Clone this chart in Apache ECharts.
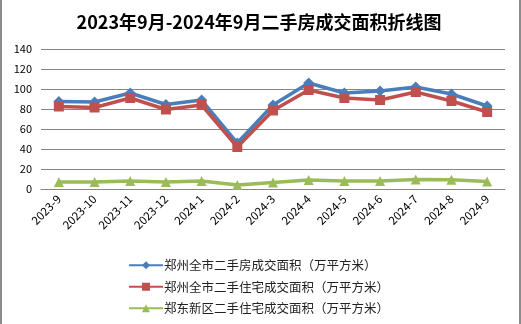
<!DOCTYPE html>
<html><head><meta charset="utf-8">
<script src="https://cdn.jsdelivr.net/npm/echarts@6/dist/echarts.min.js"></script>
<style>html,body{margin:0;padding:0;background:#fff}#c{width:521px;height:324px}</style>
</head><body><div id="c"></div>
<script>
const categories = ['2023-9','2023-10','2023-11','2023-12','2024-1','2024-2','2024-3','2024-4','2024-5','2024-6','2024-7','2024-8','2024-9'];
const cityHousing = [87.5, 87, 96, 84.5, 89, 46, 84, 106, 96, 98, 102, 95, 83];
const cityResidential = [82.5, 81.5, 91, 79.5, 84, 42, 78.5, 99, 91, 89, 97, 88, 77];
const zhengdongResidential = [7, 7, 8, 7, 8, 4, 6.5, 9, 8, 8, 9.5, 9.3, 7.5];
const seriesNames = ['郑州全市二手房成交面积（万平方米）','郑州全市二手住宅成交面积（万平方米）','郑东新区二手住宅成交面积（万平方米）'];
const yTicks = {min: 0, max: 140, interval: 20};

const chart = echarts.init(document.getElementById('c'));
const font = '"Noto Sans CJK SC", "Liberation Sans", sans-serif';
chart.setOption({
  animation: false,
  backgroundColor: '#fff',
  textStyle: {fontFamily: font},
  title: {
    text: '2023年9月-2024年9月二手房成交面积折线图',
    left: 254, top: 8, textAlign: 'center',
    textStyle: {fontSize: 18, fontWeight: 'bold', color: '#000', fontFamily: font}
  },
  graphic: [
    {type: 'rect', shape: {x: 0, y: 0, width: 2, height: 324}, style: {fill: '#8c8c8c'}},
    {type: 'rect', shape: {x: 519, y: 0, width: 2, height: 324}, style: {fill: '#8c8c8c'}}
  ],
  grid: {left: 41, right: 16, top: 49, bottom: 135},
  legend: {
    orient: 'vertical', left: 128, top: 259, padding: 0, itemWidth: 34, itemHeight: 10, itemGap: 9,
    textStyle: {fontSize: 12.5, color: '#222', fontFamily: font, padding: [0,0,0,-4]},
    data: seriesNames
  },
  xAxis: {
    type: 'category', data: categories, boundaryGap: true,
    axisLine: {lineStyle: {color: '#868686', width: 1}},
    axisTick: {show: false},
    axisLabel: {rotate: 45, fontSize: 11.5, color: '#000', margin: 8}
  },
  yAxis: {
    type: 'value', min: yTicks.min, max: yTicks.max, interval: yTicks.interval,
    axisLine: {show: false}, axisTick: {show: false},
    axisLabel: {fontSize: 11, color: '#000', margin: 9},
    splitLine: {lineStyle: {color: '#868686', width: 1}}
  },
  series: [
    {name: seriesNames[0], type: 'line', data: cityHousing, symbol: 'diamond', symbolSize: 11,
     lineStyle: {width: 3.5, color: '#4A7EBB'}, itemStyle: {color: '#4A7EBB'}},
    {name: seriesNames[1], type: 'line', data: cityResidential, symbol: 'rect', symbolSize: 10,
     lineStyle: {width: 3.5, color: '#C0504D'}, itemStyle: {color: '#C0504D'}},
    {name: seriesNames[2], type: 'line', data: zhengdongResidential, symbol: 'triangle', symbolSize: 10,
     lineStyle: {width: 3.5, color: '#9BBB59'}, itemStyle: {color: '#9BBB59'}}
  ]
});
</script></body></html>
